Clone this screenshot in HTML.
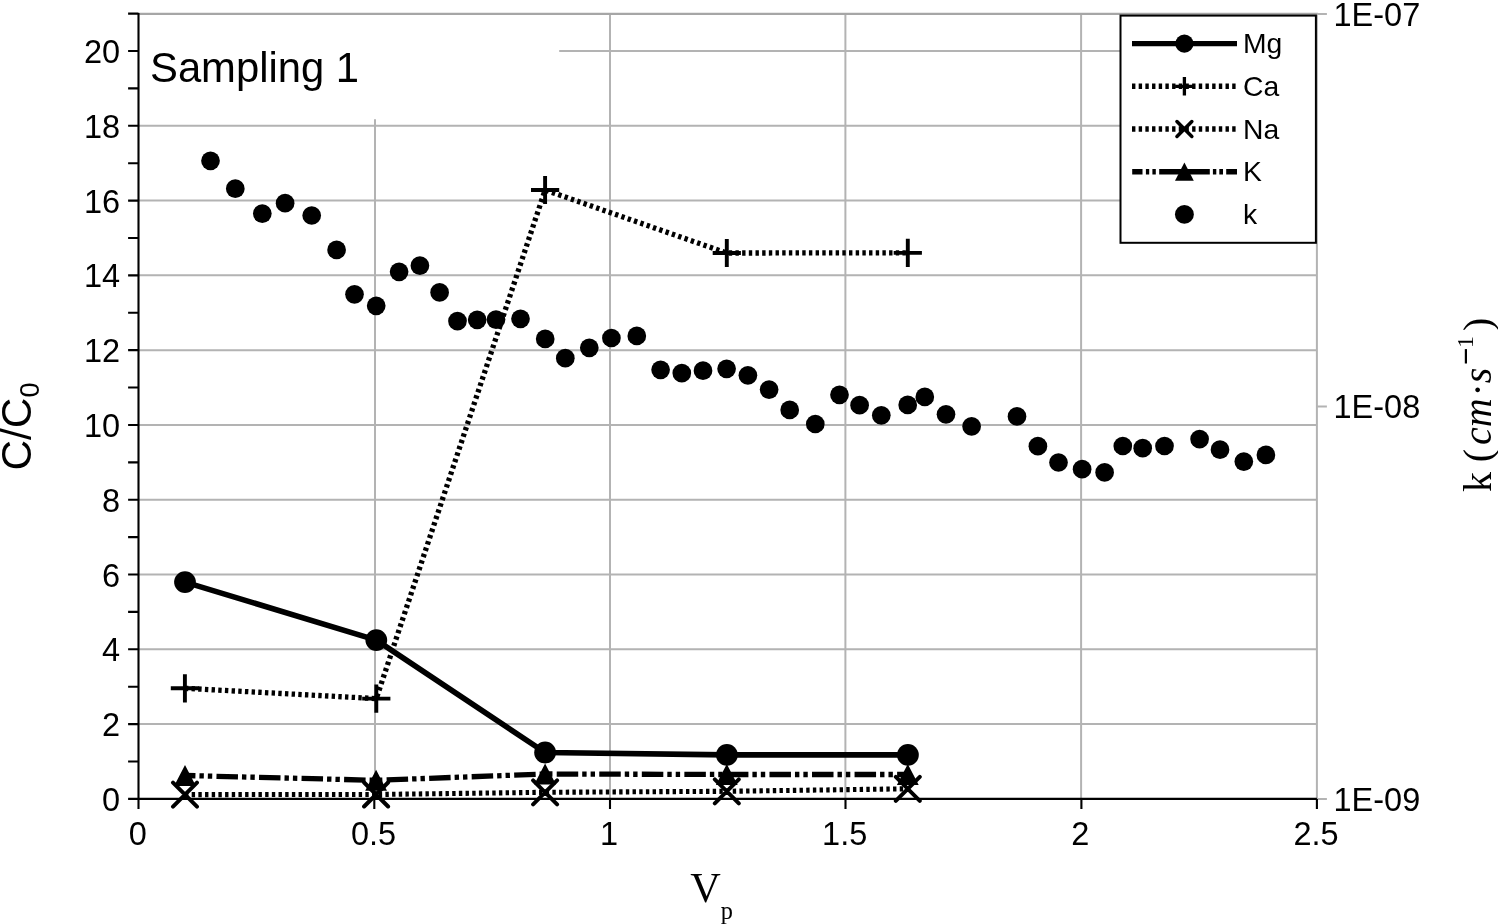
<!DOCTYPE html><html><head><meta charset="utf-8"><style>html,body{margin:0;padding:0;background:#fff;overflow:hidden;}svg{display:block;will-change:transform;}text{font-family:"Liberation Sans",sans-serif;}</style></head><body>
<svg width="1498" height="924" viewBox="0 0 1498 924">
<rect x="0" y="0" width="1498" height="924" fill="#fff"/>
<path d="M138.50 724.11H1316.90 M138.50 649.32H1316.90 M138.50 574.53H1316.90 M138.50 499.74H1316.90 M138.50 424.95H1316.90 M138.50 350.16H1316.90 M138.50 275.37H1316.90 M138.50 200.58H1316.90 M138.50 125.79H1316.90 M559.20 51.00H1316.90 M375.00 119.30V798.90 M610.00 13.90V798.90 M845.40 13.90V798.90 M1081.10 13.90V798.90 M1316.90 13.90V798.90" stroke="#b3b3b3" stroke-width="2" fill="none"/>
<path d="M138.50 13.90H1317.90" stroke="#a6a6a6" stroke-width="2.1" fill="none"/>
<path d="M1316.90 13.90H1326.90 M1316.90 406.40H1326.90 M1316.90 798.90H1326.90" stroke="#b3b3b3" stroke-width="2" fill="none"/>
<path d="M138.50 12.90V799.90 M128.10 798.90H138.50 M128.10 761.50H138.50 M128.10 724.11H138.50 M128.10 686.71H138.50 M128.10 649.32H138.50 M128.10 611.92H138.50 M128.10 574.53H138.50 M128.10 537.13H138.50 M128.10 499.74H138.50 M128.10 462.34H138.50 M128.10 424.95H138.50 M128.10 387.55H138.50 M128.10 350.16H138.50 M128.10 312.76H138.50 M128.10 275.37H138.50 M128.10 237.97H138.50 M128.10 200.58H138.50 M128.10 163.18H138.50 M128.10 125.79H138.50 M128.10 88.39H138.50 M128.10 51.00H138.50 M128.10 13.60H138.50 M128.10 798.90H1316.90 M138.50 798.90V808.90 M374.30 798.90V808.90 M610.00 798.90V808.90 M845.50 798.90V808.90 M1081.40 798.90V808.90 M1316.90 798.90V808.90" stroke="#000" stroke-width="2.1" fill="none"/>
<text x="120.2" y="810.90" font-size="32.5" text-anchor="end">0</text>
<text x="120.2" y="736.11" font-size="32.5" text-anchor="end">2</text>
<text x="120.2" y="661.32" font-size="32.5" text-anchor="end">4</text>
<text x="120.2" y="586.53" font-size="32.5" text-anchor="end">6</text>
<text x="120.2" y="511.74" font-size="32.5" text-anchor="end">8</text>
<text x="120.2" y="436.95" font-size="32.5" text-anchor="end">10</text>
<text x="120.2" y="362.16" font-size="32.5" text-anchor="end">12</text>
<text x="120.2" y="287.37" font-size="32.5" text-anchor="end">14</text>
<text x="120.2" y="212.58" font-size="32.5" text-anchor="end">16</text>
<text x="120.2" y="137.79" font-size="32.5" text-anchor="end">18</text>
<text x="120.2" y="63.00" font-size="32.5" text-anchor="end">20</text>
<text x="137.90" y="844.8" font-size="32.5" text-anchor="middle">0</text>
<text x="373.50" y="844.8" font-size="32.5" text-anchor="middle">0.5</text>
<text x="609.10" y="844.8" font-size="32.5" text-anchor="middle">1</text>
<text x="844.70" y="844.8" font-size="32.5" text-anchor="middle">1.5</text>
<text x="1080.40" y="844.8" font-size="32.5" text-anchor="middle">2</text>
<text x="1316.10" y="844.8" font-size="32.5" text-anchor="middle">2.5</text>
<text x="1333.5" y="25.50" font-size="32.5">1E-07</text>
<text x="1333.5" y="418.00" font-size="32.5">1E-08</text>
<text x="1333.5" y="810.50" font-size="32.5">1E-09</text>
<text x="150.0" y="81.6" font-size="41.8">Sampling 1</text>
<text transform="translate(30.6 470.6) rotate(-90)" font-size="42.4">C/C<tspan font-size="27.2" dy="7.9">0</tspan></text>
<text x="690.3" y="902.0" font-size="42.3" style="font-family:'Liberation Serif',serif">V</text>
<text x="720.8" y="919.05" font-size="24.3" style="font-family:'Liberation Serif',serif">p</text>
<text transform="translate(1491.4 492.1) rotate(-90)" font-size="40" style="font-family:'Liberation Serif',serif">k</text>
<text transform="translate(1491.4 462.3) rotate(-90)" font-size="40" style="font-family:'Liberation Serif',serif">(</text>
<text transform="translate(1491.4 444.9) rotate(-90)" font-size="40" style="font-family:'Liberation Serif',serif;font-style:italic">cm</text>
<text transform="translate(1491.4 396.4) rotate(-90)" font-size="40" style="font-family:'Liberation Serif',serif">&#183;</text>
<text transform="translate(1491.4 383.3) rotate(-90)" font-size="40" style="font-family:'Liberation Serif',serif;font-style:italic">s</text>
<rect x="1464.8" y="349.1" width="2.2" height="14.4" fill="#000"/>
<text transform="translate(1472.7 348.0) rotate(-90)" font-size="24" style="font-family:'Liberation Serif',serif">1</text>
<text transform="translate(1491.4 331.1) rotate(-90)" font-size="40" style="font-family:'Liberation Serif',serif">)</text>
<polyline points="185.0,582.1 376.3,640.1 545.1,752.5 726.9,754.9 907.9,754.9" fill="none" stroke="#000" stroke-width="5.6" stroke-linejoin="round"/>
<polyline points="184.9,688.3 376.3,698.6 545.1,190.0 726.8,253.0 907.8,252.9" fill="none" stroke="#000" stroke-width="5.3" stroke-dasharray="3.4 3.28"/>
<polyline points="185.0,794.6 376.1,794.5 545.1,792.3 726.8,791.3 907.8,788.8" fill="none" stroke="#000" stroke-width="5.1" stroke-dasharray="3.4 3.28"/>
<polyline points="185.0,775.5 376.1,780.3 545.1,774.0 726.8,774.5 907.8,774.5" fill="none" stroke="#000" stroke-width="5.3" stroke-dasharray="21.5 4.0 4.4 4.0 4.4 4.25" stroke-dashoffset="11.06"/>
<circle cx="185.0" cy="582.1" r="10.9"/>
<circle cx="376.3" cy="640.1" r="10.9"/>
<circle cx="545.1" cy="752.5" r="10.9"/>
<circle cx="726.9" cy="754.9" r="10.9"/>
<circle cx="907.9" cy="754.9" r="10.9"/>
<path d="M170.8 688.3H199.0M184.9 674.2V702.4M362.2 698.6H390.4M376.3 684.5V712.7M531.0 190.0H559.2M545.1 175.9V204.1M712.7 253.0H740.9M726.8 238.9V267.1M893.7 252.9H921.9M907.8 238.8V267.0" stroke="#000" stroke-width="3.9" fill="none"/>
<path d="M173.0 782.6L197.0 806.6M173.0 806.6L197.0 782.6M364.1 782.5L388.1 806.5M364.1 806.5L388.1 782.5M533.1 780.3L557.1 804.3M533.1 804.3L557.1 780.3M714.8 779.3L738.8 803.3M714.8 803.3L738.8 779.3M895.8 776.8L919.8 800.8M895.8 800.8L919.8 776.8" stroke="#000" stroke-width="4" stroke-linecap="round" fill="none"/>
<path d="M185.0 765.0L195.9 786.0L174.1 786.0ZM376.1 769.8L387.0 790.8L365.2 790.8ZM545.1 763.5L556.0 784.5L534.2 784.5ZM726.8 764.0L737.7 785.0L715.9 785.0ZM907.8 764.0L918.7 785.0L896.9 785.0Z" fill="#000"/>
<circle cx="210.5" cy="160.8" r="9.35"/>
<circle cx="235.3" cy="188.7" r="9.35"/>
<circle cx="262.3" cy="213.6" r="9.35"/>
<circle cx="285.1" cy="203.2" r="9.35"/>
<circle cx="311.7" cy="215.5" r="9.35"/>
<circle cx="336.6" cy="249.9" r="9.35"/>
<circle cx="354.5" cy="294.3" r="9.35"/>
<circle cx="376.2" cy="305.8" r="9.35"/>
<circle cx="399.1" cy="271.8" r="9.35"/>
<circle cx="419.9" cy="265.7" r="9.35"/>
<circle cx="439.6" cy="292.4" r="9.35"/>
<circle cx="457.5" cy="321.1" r="9.35"/>
<circle cx="477.2" cy="319.8" r="9.35"/>
<circle cx="496.0" cy="319.6" r="9.35"/>
<circle cx="520.5" cy="318.8" r="9.35"/>
<circle cx="545.2" cy="338.9" r="9.35"/>
<circle cx="565.3" cy="358.2" r="9.35"/>
<circle cx="589.3" cy="347.8" r="9.35"/>
<circle cx="611.4" cy="338.0" r="9.35"/>
<circle cx="636.8" cy="335.9" r="9.35"/>
<circle cx="660.6" cy="369.8" r="9.35"/>
<circle cx="681.8" cy="373.1" r="9.35"/>
<circle cx="703.0" cy="370.7" r="9.35"/>
<circle cx="726.6" cy="368.8" r="9.35"/>
<circle cx="747.9" cy="375.3" r="9.35"/>
<circle cx="769.1" cy="389.6" r="9.35"/>
<circle cx="789.7" cy="409.9" r="9.35"/>
<circle cx="815.3" cy="424.0" r="9.35"/>
<circle cx="839.5" cy="394.8" r="9.35"/>
<circle cx="859.6" cy="405.2" r="9.35"/>
<circle cx="881.3" cy="415.3" r="9.35"/>
<circle cx="907.7" cy="404.9" r="9.35"/>
<circle cx="924.8" cy="396.9" r="9.35"/>
<circle cx="946.0" cy="414.3" r="9.35"/>
<circle cx="971.6" cy="426.4" r="9.35"/>
<circle cx="1017.0" cy="416.4" r="9.35"/>
<circle cx="1037.9" cy="446.2" r="9.35"/>
<circle cx="1058.5" cy="462.5" r="9.35"/>
<circle cx="1082.1" cy="469.2" r="9.35"/>
<circle cx="1104.6" cy="472.4" r="9.35"/>
<circle cx="1122.8" cy="446.0" r="9.35"/>
<circle cx="1142.7" cy="448.2" r="9.35"/>
<circle cx="1164.5" cy="446.0" r="9.35"/>
<circle cx="1199.6" cy="439.1" r="9.35"/>
<circle cx="1220.0" cy="449.7" r="9.35"/>
<circle cx="1243.8" cy="461.6" r="9.35"/>
<circle cx="1265.9" cy="454.9" r="9.35"/>
<rect x="1120.5" y="15.6" width="195.4" height="227.2" fill="#fff" stroke="#000" stroke-width="2"/>
<line x1="1132.0" y1="43.6" x2="1237.0" y2="43.6" stroke="#000" stroke-width="5.3"/>
<circle cx="1184.4" cy="43.6" r="9.15"/>
<path d="M1132.00 86.3h3.4M1138.68 86.3h3.4M1145.36 86.3h3.4M1152.04 86.3h3.4M1158.72 86.3h3.4M1165.40 86.3h3.4M1172.08 86.3h3.4M1178.76 86.3h3.4M1185.44 86.3h3.4M1192.12 86.3h3.4M1198.80 86.3h3.4M1205.48 86.3h3.4M1212.16 86.3h3.4M1218.84 86.3h3.4M1225.52 86.3h3.4M1232.20 86.3h3.4" stroke="#000" stroke-width="5.5" fill="none"/>
<path d="M1175.1000000000001 86.3H1193.7M1184.4 77.0V95.6" stroke="#000" stroke-width="3.3"/>
<path d="M1132.00 129.0h3.4M1138.68 129.0h3.4M1145.36 129.0h3.4M1152.04 129.0h3.4M1158.72 129.0h3.4M1165.40 129.0h3.4M1172.08 129.0h3.4M1178.76 129.0h3.4M1185.44 129.0h3.4M1192.12 129.0h3.4M1198.80 129.0h3.4M1205.48 129.0h3.4M1212.16 129.0h3.4M1218.84 129.0h3.4M1225.52 129.0h3.4M1232.20 129.0h3.4" stroke="#000" stroke-width="5.5" fill="none"/>
<path d="M1176.95 121.55L1191.8500000000001 136.45M1176.95 136.45L1191.8500000000001 121.55" stroke="#000" stroke-width="3.5" stroke-linecap="round"/>
<path d="M1132.2 171.7H1142.5M1145.9 171.7H1149.2M1152.4 171.7H1155.8M1159.2 171.7H1209.8M1212.9 171.7H1216.3M1219.3 171.7H1223.0M1226.2 171.7H1237.0" stroke="#000" stroke-width="5.5" fill="none"/>
<path d="M1184.4 162.39999999999998L1193.8000000000002 180.7L1175.0 180.7Z" fill="#000"/>
<circle cx="1184.4" cy="214.4" r="9.45"/>
<text x="1243.0" y="53.30" font-size="28.3">Mg</text>
<text x="1243.0" y="96.00" font-size="28.3">Ca</text>
<text x="1243.0" y="138.70" font-size="28.3">Na</text>
<text x="1243.0" y="181.40" font-size="28.3">K</text>
<text x="1243.0" y="224.10" font-size="28.3">k</text>
</svg></body></html>
